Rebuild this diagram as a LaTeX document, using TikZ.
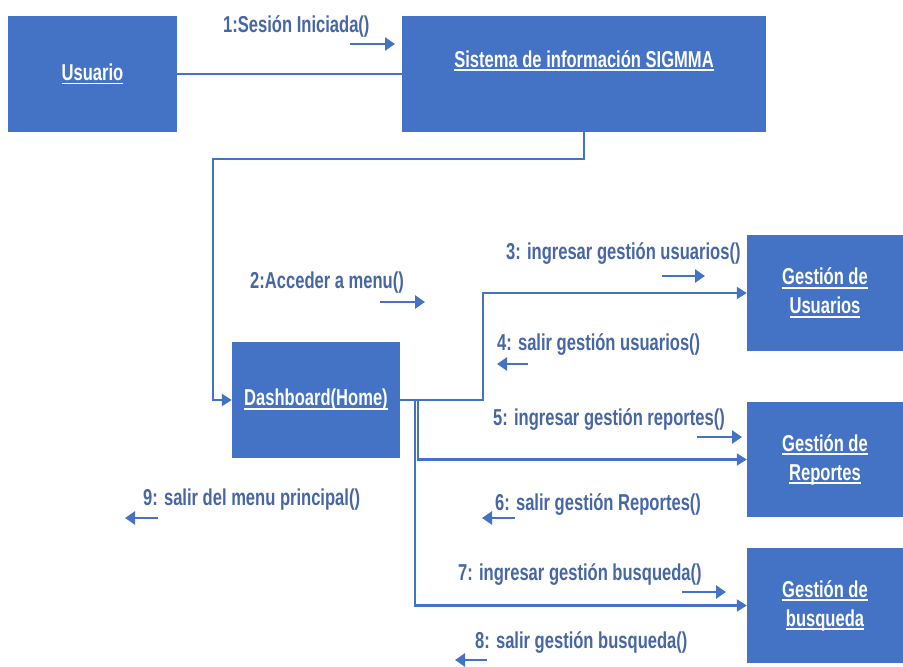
\documentclass[tikz,border=0pt]{standalone}
\usepackage{fontspec}
\setmainfont{Liberation Sans}[FakeStretch=0.72]
\usetikzlibrary{arrows.meta}
\definecolor{boxblue}{HTML}{4472C4}
\definecolor{msgblue}{RGB}{70,102,165}
% underlined text with a fixed rule position
\newcommand{\ulword}[1]{\leavevmode\setbox0=\hbox{#1}\dimen0=\wd0\rlap{\box0}\rule[-4.2pt]{\dimen0}{1.9pt}}
\begin{document}
\begin{tikzpicture}[x=1pt,y=-1pt,
  obj/.style={draw=none,fill=boxblue,text=white,inner sep=0pt,align=center,
    font=\fontsize{23}{29}\selectfont\bfseries},
  lbl/.style={text=msgblue,inner sep=0pt,font=\fontsize{23}{29}\selectfont\bfseries},
  conn/.style={draw=boxblue,line width=2.2pt},
  tip/.style={-{Triangle[length=10pt,width=12pt]}},
  msg/.style={draw=boxblue,line width=2.6pt,-{Triangle[length=10pt,width=13pt]}}]
\useasboundingbox (0,0) rectangle (903,667);

% objects
\node[obj,minimum width=169pt,minimum height=116pt] (usr) at (92.5,74) {\ulword{Usuario}};
\node[obj,minimum width=364pt,minimum height=116pt] (sig) at (584,74) {};
\node[obj,fill=none,anchor=base] (sigtxt) at (584,67) {\ulword{Sistema de información SIGMMA}};
\node[obj,minimum width=168pt,minimum height=116pt] (dash) at (316,400) {\ulword{Dashboard(Home)}};
\node[obj,minimum width=156pt,minimum height=116pt] (gu) at (825,293) {\ulword{Gestión de}\\\ulword{Usuarios}};
\node[obj,minimum width=156pt,minimum height=115pt] (gr) at (825,459.5) {\ulword{Gestión de}\\\ulword{Reportes}};
\node[obj,minimum width=156pt,minimum height=115pt] (gb) at (825,605.5) {\ulword{Gestión de}\\\ulword{busqueda}};

% links
\coordinate (k1) at (213,159);
\coordinate (k2) at (483,293);
\coordinate (k3) at (418,459.5);
\coordinate (k4) at (415,605.5);
\draw[conn] (usr.east) -- (sig.west);
\draw[conn,tip] (sig.south) |- (k1) |- (dash.west);
\draw[conn,tip] (dash.east) -| (k2) -- (gu.west);
\draw[conn,tip] (dash.east) -| (k3) -- (gr.west);
\draw[conn,tip] (dash.east) -| (k4) -- (gb.west);

% messages
\node[lbl,anchor=base west] (m1) at (223,32) {1:Sesión Iniciada()};
\draw[msg] (350,44) -- (395,44);
\node[lbl,anchor=base west] (m2) at (250,288) {2:Acceder a menu()};
\draw[msg] (380,302) -- (425,302);
\node[lbl,anchor=base west] (m3) at (506,259) {3: ingresar gestión usuarios()};
\draw[msg] (662,276) -- (705,276);
\node[lbl,anchor=base west] (m4) at (497,350) {4: salir gestión usuarios()};
\draw[msg] (528,364) -- (497,364);
\node[lbl,anchor=base west] (m5) at (493,425) {5: ingresar gestión reportes()};
\draw[msg] (697,437) -- (742,437);
\node[lbl,anchor=base west] (m6) at (495,510) {6: salir gestión Reportes()};
\draw[msg] (515,518) -- (482,518);
\node[lbl,anchor=base west] (m7) at (458,580) {7: ingresar gestión busqueda()};
\draw[msg] (682,592) -- (726,592);
\node[lbl,anchor=base west] (m8) at (475,648) {8: salir gestión busqueda()};
\draw[msg] (487,660) -- (455,660);
\node[lbl,anchor=base west] (m9) at (143,505) {9: salir del menu principal()};
\draw[msg] (158,518) -- (125,518);
\end{tikzpicture}
\end{document}
